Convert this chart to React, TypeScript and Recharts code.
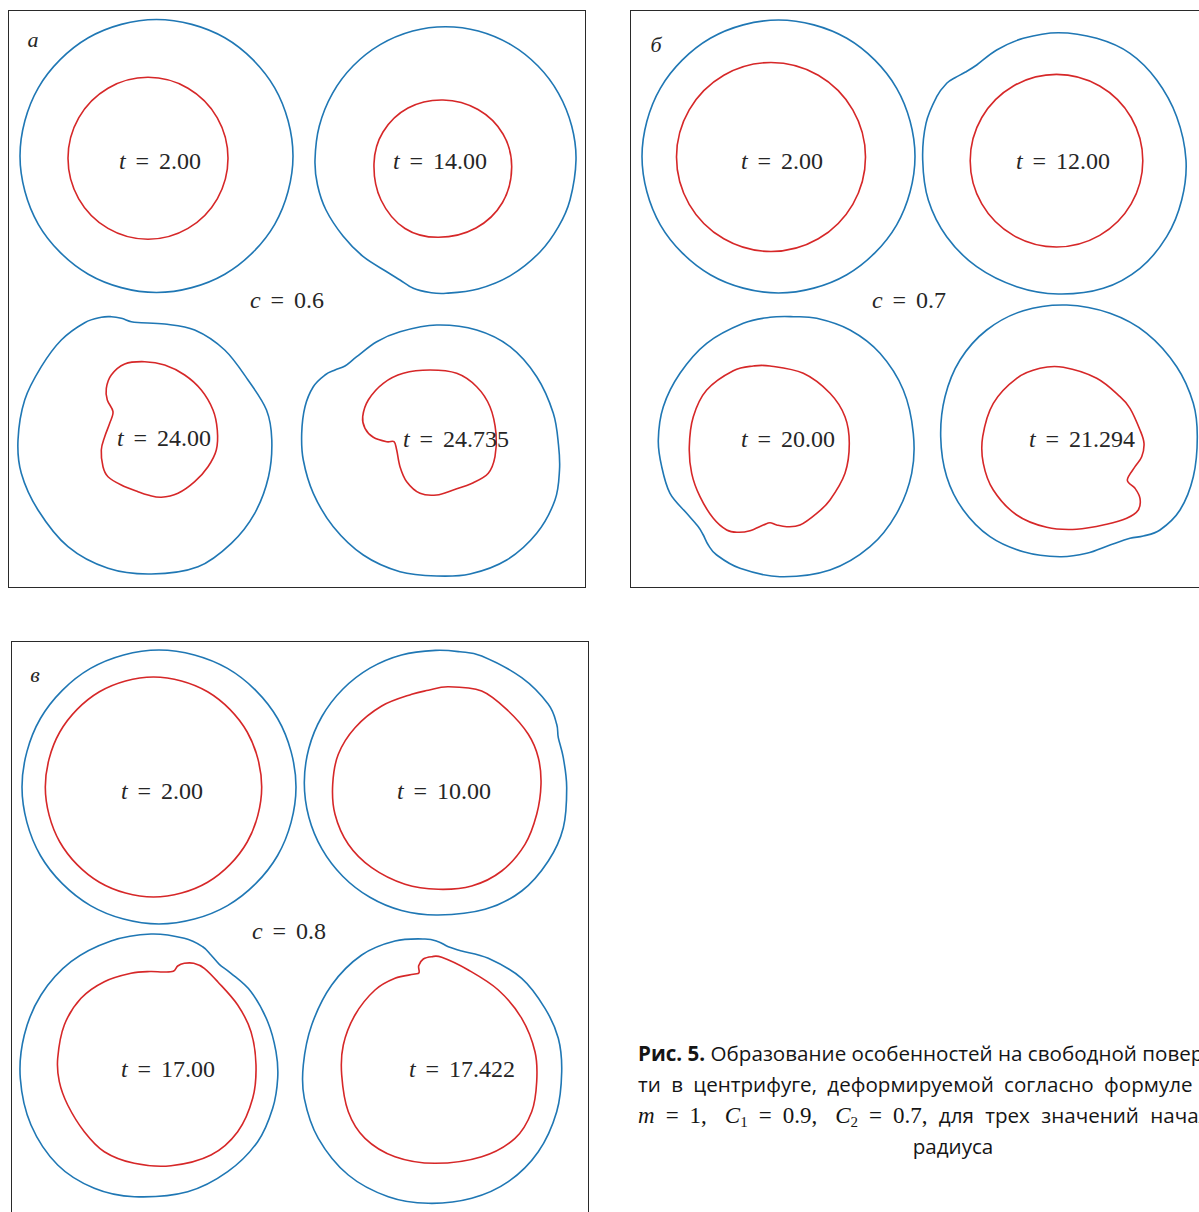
import React from "react";
import { ScatterChart, Scatter, XAxis, YAxis } from "recharts";

const BLUE = "#1f77b4";
const RED = "#d62728";
const INK = "#262626";
const FRAME = "#2a2a2a";
const SERIF = "'Liberation Serif', 'DejaVu Serif', serif";
const SANS = "'Open Sans', 'Noto Sans', sans-serif";
const SIZE = 578;

type Pt = [number, number];

// ---- panel а (c = 0.6), measured in figure pixels
const aT2Outer: Pt[] = [[293,156],[274.7,224.3],[224.8,274.2],[156.5,292.5],[88.3,274.2],[38.3,224.3],[20,156],[38.3,87.8],[88.3,37.8],[156.5,19.5],[224.8,37.8],[274.7,87.8]];
const aT2Inner: Pt[] = [[228,158.3],[217.3,198.8],[188,228.4],[148,239.3],[108,228.4],[78.7,198.8],[68,158.3],[78.7,117.8],[108,88.2],[148,77.3],[188,88.2],[217.3,117.8]];
const aT14Outer: Pt[] = [[576,160],[570,200],[558.5,226.7],[540,252],[510.8,275.4],[478,289],[446,293.3],[430,292.5],[413.3,288.3],[400,280],[386.7,271.7],[363.3,256.7],[343,236],[326,210],[317.5,185],[315,160],[319.3,126],[332.5,93.3],[353,66],[380.2,44.6],[412.7,31],[445.5,26.7],[478.3,31],[510.8,44.6],[538,66],[558.5,93.3],[571.7,126]];
const aT14Inner: Pt[] = [[511.7,167],[502.5,202.5],[476,228],[438.5,237.3],[405,228.5],[381,200],[374,163.5],[383,132],[408,108],[443,100],[478,109.5],[503,134]];
const aT24Outer: Pt[] = [[18,440],[21.3,473.3],[38,510],[68,546.7],[108,568.3],[151.3,574],[198,566.7],[231.3,543.3],[254.7,513.3],[268.5,476.7],[271.8,440],[266.5,410],[248,380],[224.7,350],[194.7,330],[164.7,324],[141.3,322.7],[131.3,321.7],[121.3,318.3],[111.3,316.7],[101.3,317.3],[84.7,322.7],[61.3,340],[41.3,366.7],[24.7,400]];
const aT24Inner: Pt[] = [[144.7,361.7],[164.7,365],[184.7,375],[201.3,390],[213,410],[217.3,430],[216.3,450],[208,466.7],[194.7,481.7],[178,493.3],[161.3,497.3],[148,495],[138,491.7],[121.3,485],[108,476.7],[103,466.7],[101.3,450],[104.7,436.7],[109.7,423.3],[113,411.7],[107.3,400],[106.3,388.3],[111.3,375],[124.7,364]];
const aT24735Outer: Pt[] = [[436.7,325],[476.7,330],[510,346.7],[536.7,376.7],[553.3,413.3],[558.5,445],[559.5,470],[555,500],[536.7,533.3],[506.7,560],[470,574],[436.7,576],[400,571.7],[363.3,555],[333.3,526.7],[313.3,493.3],[303.3,460],[301.7,433.3],[305,406.7],[313.3,386.7],[325,375],[335,370],[345,366],[356.7,356.7],[376.7,341.7],[400,331.7]];
const aT24735Inner: Pt[] = [[430,370],[456.7,373.3],[476.7,386.7],[490,406.7],[496,433.3],[495,456.7],[488.3,473.3],[473.3,482.7],[453.3,490],[436.7,495],[420,493.3],[406.7,481.7],[400,466.7],[396.7,450],[394,441.7],[386.7,441.7],[373.3,437.3],[365,428.3],[362.7,416.7],[368.3,400],[383.3,383.3],[403.3,373.3]];

// ---- panel б (c = 0.7)
const bT2Outer: Pt[] = [[915,156.5],[896.7,224.8],[846.8,274.7],[778.5,293],[710.3,274.7],[660.3,224.8],[642,156.5],[660.3,88.3],[710.3,38.3],[778.5,20],[846.8,38.3],[896.7,88.3]];
const bT2Inner: Pt[] = [[865.5,157],[852.8,204.3],[818.3,238.8],[771,251.5],[723.8,238.8],[689.2,204.3],[676.5,157],[689.2,109.8],[723.8,75.2],[771,62.5],[818.3,75.2],[852.8,109.8]];
const bT12Outer: Pt[] = [[1058.3,32.7],[1096.7,38.3],[1130,53.3],[1156.7,80],[1176.7,116.7],[1186,160],[1181.7,200],[1166.7,236.7],[1140,268.3],[1103.3,288.3],[1058.3,294],[1016.7,286.7],[976.7,266.7],[946.7,236.7],[928.3,200],[922.7,160],[926,123.3],[936.7,96.7],[946.7,83.3],[955,77.7],[965,72.3],[976.7,65],[996.7,50],[1023.3,38.3]];
const bT12Inner: Pt[] = [[1142.8,160.7],[1131.2,203.9],[1099.7,235.4],[1056.5,247],[1013.4,235.4],[981.8,203.9],[970.2,160.7],[981.8,117.5],[1013.4,86],[1056.5,74.4],[1099.7,86],[1131.2,117.5]];
const bT20Outer: Pt[] = [[793.3,316.7],[816.7,318.3],[850,330],[880,353.3],[903.3,390],[913.3,433.3],[911.7,473.3],[896.7,513.3],[870,546.7],[830,570],[780,576.7],[740,568.3],[716.7,555],[708.3,545],[703.3,535],[698.3,526.7],[686.7,513.3],[670,493.3],[661.7,466.7],[658.3,440],[663.3,406.7],[680,373.3],[706.7,343.3],[743.3,323.3],[770,317.3]];
const bT20Inner: Pt[] = [[770,366],[803.3,373.3],[830,393.3],[845,416.7],[849.3,443.3],[845,473.3],[830,500],[816.7,513.3],[800,525],[786.7,526.7],[776.7,525],[770,522.7],[763.3,525],[750,530.7],[738,532.3],[726.7,530],[713.3,518.3],[700,496.7],[691.7,473.3],[689.3,446.7],[693.3,416.7],[706.7,390],[733.3,370.7],[753.3,366]];
const bT21Outer: Pt[] = [[1066.7,305],[1110,313.3],[1146.7,333.3],[1176.7,366.7],[1193.3,403.3],[1197.3,436.7],[1193.3,476.7],[1180,510],[1160,530],[1143.3,536],[1130,538.3],[1110,545],[1086.7,553.3],[1060,556.7],[1023.3,551.7],[990,536.7],[963.3,510],[946.7,476.7],[940.7,436.7],[945,396.7],[960,360],[986.7,330],[1023.3,310.7]];
const bT21Inner: Pt[] = [[1063.3,367.3],[1096.7,378.3],[1120,396.7],[1130,408.3],[1140,430],[1144,443.3],[1141.7,456.7],[1135,466.7],[1127.3,480],[1135,488.3],[1140,498.3],[1138.3,510],[1126.7,518.3],[1106.7,524.3],[1076.7,529.3],[1046.7,527.3],[1016.7,515],[993.3,490],[983.3,463.3],[982.7,436.7],[993.3,403.3],[1016.7,378.3],[1040,368.3]];

// ---- panel в (c = 0.8)
const cT2Outer: Pt[] = [[296,787],[277.6,855.5],[227.5,905.6],[159,924],[90.5,905.6],[40.4,855.5],[22,787],[40.4,718.5],[90.5,668.4],[159,650],[227.5,668.4],[277.6,718.5]];
const cT2Inner: Pt[] = [[261.7,787],[247.2,842],[207.6,882.3],[153.5,897],[99.4,882.3],[59.8,842],[45.3,787],[59.8,732],[99.4,691.7],[153.5,677],[207.6,691.7],[247.2,732]];
const cT10Outer: Pt[] = [[435.5,650.4],[460,651.8],[481.7,656],[521.7,677.7],[548.3,704.3],[556.7,724.3],[558.3,737.7],[563.3,757.7],[566.7,787.7],[563.3,827.7],[548.3,861],[521.7,891],[485,909.3],[438,915],[401.5,910.5],[369.9,897.3],[342.7,876.2],[321.9,848.9],[308.8,817],[304.3,782.7],[308.8,748.5],[321.9,716.5],[342.7,689.2],[369.9,668.1],[401.5,654.9]];
const cT10Inner: Pt[] = [[448.3,686.7],[481.7,691],[508.3,711],[528.3,734.3],[538.3,757.7],[541,784.3],[536.7,814.3],[525,844.3],[501.7,871],[471.7,886],[438.3,889.3],[405,884.3],[371.7,867.7],[348.3,844.3],[335,814.3],[332.7,784.3],[338.3,754.3],[355,727.7],[381.7,706],[411.7,694.3],[428.3,690.3]];
const cT17Outer: Pt[] = [[151,934],[184.3,938.3],[202.7,946.7],[211,955],[219.3,964.3],[231,973.3],[251,991.7],[267.7,1021.7],[276,1051.7],[277.7,1078],[272.7,1108.3],[257.7,1141.7],[227.7,1171.7],[187.7,1191.7],[134.3,1196.7],[94.3,1188.3],[57.7,1165],[31,1125],[20.3,1078.3],[24.3,1035],[41,995],[71,961.7],[111,941]];
const cT17Inner: Pt[] = [[162.7,972],[173.3,971.3],[177.7,966],[184.3,963.3],[193.7,963.3],[204.3,968.3],[217.7,981.7],[237.7,1005],[251,1031.7],[256,1065],[252.7,1098.3],[237.7,1131.7],[211,1155],[171,1165.7],[134.3,1163.3],[104.3,1151.7],[84.3,1131.7],[67.7,1105],[59.3,1081.7],[57.7,1058.3],[64.3,1025],[81,998.3],[104.3,981.7],[131,973.3],[150,971.5]];
const cT17422Outer: Pt[] = [[425,939],[438.3,941.7],[448.3,946.7],[461.7,951],[488.3,958.3],[521.7,978.3],[545,1008.3],[558.3,1038.3],[561.7,1071.7],[556.7,1111.7],[538.3,1151.7],[508.3,1181.7],[471.7,1198.3],[428.3,1203.3],[388.3,1196.7],[348.3,1175],[318.3,1138.3],[304.3,1098.3],[303.3,1065],[311.7,1025],[331.7,985],[361.7,955],[395,941]];
const cT17422Inner: Pt[] = [[413.3,974.3],[419,972.7],[418.7,965.7],[423.3,959],[431.7,956.7],[441.7,957.3],[468.3,970],[498.3,990],[521.7,1018.3],[535,1051.7],[536.7,1081.7],[531.7,1111.7],[515,1138.3],[481.7,1156.7],[435,1163.3],[395,1156.7],[365,1138.3],[348.3,1111.7],[341.7,1075],[343.3,1045],[355,1015],[375,990],[395,978.3]];

// labels
const aTimes = ["2.00", "14.00", "24.00", "24.735"];
const bTimes = ["2.00", "12.00", "20.00", "21.294"];
const cTimes = ["2.00", "10.00", "17.00", "17.422"];
const aTimeAt: Pt[] = [[160, 161], [440, 161], [164, 438], [456, 439]];
const bTimeAt: Pt[] = [[782, 161], [1063, 161], [788, 439], [1082, 439]];
const cTimeAt: Pt[] = [[162, 791], [444, 791], [168, 1069], [462, 1069]];
const cValues = ["0.6", "0.7", "0.8"];
const cValueAt: Pt[] = [[287, 300], [909, 300], [289, 931]];
const panelLetters = ["а", "б", "в"];
const panelLetterAt: Pt[] = [[33, 40], [656, 45], [35, 675]];
const panelOrigin: Pt[] = [[8, 10], [630, 10], [11, 641]];

const rows = (pts: Pt[]) => pts.map(([x, y]) => ({ x, y }));

// closed Catmull-Rom curve, so the line passes through the measured points
function closedSpline(context: any) {
  let pts: Pt[] = [];
  return {
    areaStart() {},
    areaEnd() {},
    lineStart() {
      pts = [];
    },
    point(x: number, y: number) {
      pts.push([+x, +y]);
    },
    lineEnd() {
      const n = pts.length;
      if (!n) return;
      context.moveTo(pts[0][0], pts[0][1]);
      for (let i = 0; i < n; i++) {
        const p0 = pts[(i - 1 + n) % n];
        const p1 = pts[i];
        const p2 = pts[(i + 1) % n];
        const p3 = pts[(i + 2) % n];
        context.bezierCurveTo(
          p1[0] + (p2[0] - p0[0]) / 6,
          p1[1] + (p2[1] - p0[1]) / 6,
          p2[0] - (p3[0] - p1[0]) / 6,
          p2[1] - (p3[1] - p1[1]) / 6,
          p2[0],
          p2[1]
        );
      }
      context.closePath();
    }
  };
}

const blank = () => <g />;

function MathLabel(props: any) {
  const { cx, cy, payload } = props;
  if (payload.letter) {
    return (
      <text x={cx} y={cy} dy={7} textAnchor="middle" fontFamily={SERIF} fontStyle="italic" fontSize={22} fill={INK}>
        {payload.letter}
      </text>
    );
  }
  return (
    <text x={cx} y={cy} dy={8} textAnchor="middle" fontFamily={SERIF} fontSize={24} fill={INK}>
      <tspan fontStyle="italic">{payload.sym}</tspan>
      <tspan dx={10}>=</tspan>
      <tspan dx={10}>{payload.val}</tspan>
    </text>
  );
}

const panels = [
  {
    curves: [aT2Outer, aT2Inner, aT14Outer, aT14Inner, aT24Outer, aT24Inner, aT24735Outer, aT24735Inner],
    times: aTimes,
    timeAt: aTimeAt
  },
  {
    curves: [bT2Outer, bT2Inner, bT12Outer, bT12Inner, bT20Outer, bT20Inner, bT21Outer, bT21Inner],
    times: bTimes,
    timeAt: bTimeAt
  },
  {
    curves: [cT2Outer, cT2Inner, cT10Outer, cT10Inner, cT17Outer, cT17Inner, cT17422Outer, cT17422Inner],
    times: cTimes,
    timeAt: cTimeAt
  }
];

function Panel({ index }: { index: number }) {
  const p = panels[index];
  const [left, top] = panelOrigin[index];
  const labels = [
    ...p.times.map((val, i) => ({ x: p.timeAt[i][0], y: p.timeAt[i][1], sym: "t", val })),
    { x: cValueAt[index][0], y: cValueAt[index][1], sym: "c", val: cValues[index] },
    { x: panelLetterAt[index][0], y: panelLetterAt[index][1], letter: panelLetters[index] }
  ];
  return (
    <div style={{ position: "absolute", left, top, width: SIZE, height: SIZE }}>
      <ScatterChart width={SIZE} height={SIZE} margin={{ top: 0, right: 0, bottom: 0, left: 0 }}>
        <XAxis type="number" dataKey="x" domain={[left, left + SIZE]} hide allowDataOverflow />
        <YAxis type="number" dataKey="y" domain={[top, top + SIZE]} reversed hide allowDataOverflow />
        {p.curves.map((c, i) => {
          const color = i % 2 === 0 ? BLUE : RED;
          return (
            <Scatter
              key={i}
              data={rows(c)}
              fill={color}
              line={{ stroke: color, strokeWidth: 1.6 }}
              lineJointType={closedSpline as any}
              shape={blank}
              isAnimationActive={false}
            />
          );
        })}
        <Scatter data={labels} shape={MathLabel} isAnimationActive={false} />
      </ScatterChart>
      <div
        style={{
          position: "absolute",
          left: 0,
          top: 0,
          width: SIZE,
          height: SIZE,
          border: `1px solid ${FRAME}`,
          boxSizing: "border-box",
          pointerEvents: "none"
        }}
      />
    </div>
  );
}

const lineStyle: React.CSSProperties = { whiteSpace: "pre", height: 31 };
const mathStyle: React.CSSProperties = { fontFamily: SERIF, fontSize: 23, whiteSpace: "nowrap", lineHeight: 1 };
const subStyle: React.CSSProperties = { fontSize: 15, position: "relative", top: 4 };
const eqStyle: React.CSSProperties = { margin: "0 11px" };
const commaGap: React.CSSProperties = { marginRight: 18 };

function Caption() {
  return (
    <div
      style={{
        position: "absolute",
        left: 638,
        top: 1038,
        width: 630,
        fontFamily: SANS,
        fontSize: 20.6,
        lineHeight: "31px",
        color: "#151515"
      }}
    >
      <div style={lineStyle}>
        <b>Рис. 5.</b> Образование особенностей на свободной поверхнос-
      </div>
      <div style={{ ...lineStyle, wordSpacing: 5 }}>ти в центрифуге, деформируемой согласно формуле (3.2) при</div>
      <div style={{ ...lineStyle, wordSpacing: 6 }}>
        <span style={mathStyle}>
          <i>m</i>
          <span style={eqStyle}>=</span>
          <span style={commaGap}>1,</span>
          <i>C</i>
          <span style={subStyle}>1</span>
          <span style={eqStyle}>=</span>
          <span style={commaGap}>0.9,</span>
          <i>C</i>
          <span style={subStyle}>2</span>
          <span style={eqStyle}>=</span>
          0.7,
        </span>
        {" для трех значений начального"}
      </div>
      <div style={{ textAlign: "center" }}>радиуса</div>
    </div>
  );
}

export default function App() {
  return (
    <div
      style={{
        position: "absolute",
        left: 0,
        top: 0,
        width: 1199,
        height: 1212,
        overflow: "hidden",
        background: "#fff"
      }}
    >
      <Panel index={0} />
      <Panel index={1} />
      <Panel index={2} />
      <Caption />
    </div>
  );
}
